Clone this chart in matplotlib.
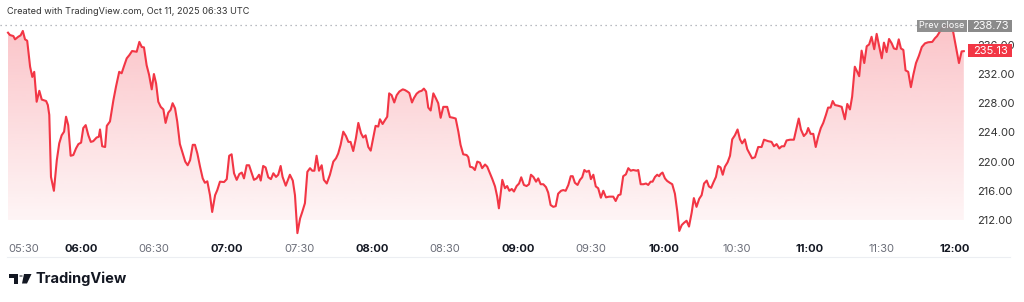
import matplotlib
matplotlib.use("Agg")
import matplotlib.pyplot as plt
import numpy as np
from matplotlib.patches import Polygon, Rectangle, Circle
from matplotlib.lines import Line2D

plt.rcParams['font.family'] = ['Inter', 'DejaVu Sans']

# minutes after 05:30, and price
minutes = [0, 0.8, 2.2, 2.9, 4.2, 5.2, 6.1, 7.0, 7.9, 9.1,
           10.0, 10.8, 11.8, 12.9, 13.9, 15.7, 16.4, 17.0, 17.7, 18.9,
           20.1, 21.1, 22.1, 23.1, 23.9, 24.8, 25.8, 26.9, 28.0, 29.0,
           30.1, 31.0, 32.0, 33.1, 34.1, 35.1, 36.5, 37.4, 37.9, 38.8,
           40.0, 40.7, 42.0, 43.4, 44.5, 45.8, 46.8, 47.8, 48.9, 50.0,
           51.1, 53.0, 54.1, 55.1, 56.0, 57.1, 58.1, 59.2, 60.1, 61.0,
           61.9, 62.9, 64.0, 64.9, 66.0, 67.0, 67.8, 68.8, 69.7, 70.8,
           72.0, 73.0, 74.0, 75.0, 76.1, 77.0, 78.0, 79.1, 80.2, 81.1,
           82.1, 83.2, 84.1, 85.3, 86.2, 87.3, 89.0, 90.1, 91.1, 92.1,
           93.1, 94.2, 95.3, 96.3, 97.2, 98.3, 99.3, 100.4, 101.3, 102.4,
           103.4,
           104.1, 105.1, 106.1, 107.2, 108.3, 109.3, 110.4, 111.3, 112.3, 113.1,
           114.4, 116.1, 117.3, 118.2, 119.2, 120.3, 121.2, 122.3, 123.3, 124.4,
           125.3, 126.2, 127.1, 128.1, 129.2, 130.1, 131.3, 132.6, 134.0, 135.1,
           136.0, 137.0, 138.1, 139.2, 140.2, 141.1, 142.2, 143.3, 144.3, 145.4,
           146.3, 147.3, 148.4, 149.4, 150.5, 151.4, 152.5, 153.2, 154.3, 155.3,
           156.2, 157.0, 158.0, 159.1, 160.1, 161.2, 162.6, 163.5, 164.5, 165.3,
           166.4, 167.2, 168.3, 169.4, 170.4, 171.3, 172.2, 173.1, 174.1, 175.2,
           176.2, 177.2, 178.2, 179.3, 180.9, 182.0, 183.4, 184.4, 185.5, 186.4,
           187.5, 188.9, 189.6, 190.3, 191.4, 192.3, 193.3, 194.4, 195.3, 196.5,
           197.4, 198.5, 199.5, 200.6, 201.5, 202.2,
           203.6, 204.7, 205.6, 206.5, 207.5, 208.4, 209.5, 210.5, 211.4, 212.5,
           213.6, 214.6, 215.4, 216.4, 217.5, 218.4, 219.4, 220.5, 221.6, 222.5,
           223.5, 224.6, 225.6, 226.6, 227.8, 228.7, 229.7, 230.8, 231.8, 232.6,
           233.5, 234.6, 235.6, 236.5, 237.4, 238.3, 239.3, 240.1, 241.1, 242.1,
           243.1, 244.2, 245.2, 246.3, 247.6, 249.3, 250.3, 251.4, 252.3, 253.4,
           254.5, 255.5, 256.5, 257.5, 258.9, 259.6, 260.6, 261.7, 262.8, 263.7,
           264.7, 265.5, 266.5, 267.4, 268.2, 268.8, 269.6, 270.6, 271.5, 272.6,
           273.6, 274.7, 275.7, 276.5, 277.5, 278.4, 279.5, 280.5, 281.6, 282.5,
           283.6, 284.7, 285.7, 286.7, 287.8, 288.7, 289.6, 290.5, 291.6, 292.5,
           293.5, 294.4, 295.3, 296.4, 297.4, 298.3, 299.4, 300.5, 301.5, 302.4,
           303.5, 304.5, 305.6, 306.5, 307.7,
           309.0, 310.4, 311.4, 313.1, 314.5, 315.5, 316.6, 317.7, 318.7, 319.7,
           320.7, 322.1, 323.7, 324.6, 325.7, 326.6, 327.8, 328.9, 329.6, 330.6,
           331.7, 332.7, 333.7, 334.8, 335.8, 336.9, 337.8, 338.8, 339.7, 340.6,
           342.0, 343.4, 344.7, 345.7, 346.8, 347.7, 348.8, 349.8, 350.6, 351.6,
           352.7, 353.7, 354.7, 355.7, 356.8, 357.8, 358.9, 359.9, 360.8, 361.9,
           362.9, 364.0, 364.9, 366.0, 366.9, 367.8, 368.8, 369.7, 370.8, 371.9,
           372.9, 374.0, 375.2, 376.4, 377.7, 379.0, 380.7, 381.8, 382.7, 383.8,
           385.1, 386.3, 387.6, 389.3, 391.7, 392.8, 393.7]

prices = [237.66, 237.34, 237.2, 236.75, 237.1, 237.3, 237.9, 236.75, 236.56, 233.0,
          231.6, 232.3, 228.2, 229.7, 228.5, 228.3, 227.75, 226.4, 217.9, 216.0,
          220.2, 222.5, 223.6, 224.1, 226.15, 225.0, 220.8, 220.9, 221.8, 222.4,
          222.6, 224.6, 225.0, 223.6, 222.7, 222.8, 223.3, 223.4, 224.4, 222.1,
          222.0, 224.9, 225.5, 228.4, 230.3, 232.3, 232.1, 233.1, 234.15, 234.6,
          235.15, 235.05, 236.4, 235.7, 235.65, 233.2, 231.9, 229.9, 232.0, 230.7,
          228.2, 227.5, 227.15, 225.3, 226.7, 227.1, 228.0, 227.3, 225.5, 222.4,
          221.1, 220.0, 219.5, 220.2, 222.3, 222.3, 221.1, 219.3, 217.7, 217.1,
          217.3, 215.4, 213.1, 215.4, 216.1, 217.25, 217.2, 217.6, 220.8, 221.0,
          218.4, 217.5, 218.3, 218.5, 217.7, 219.5, 219.5, 218.4, 217.5, 217.7,
          218.2,
          217.4, 219.4, 219.2, 217.85, 217.6, 218.4, 217.9, 218.2, 219.4, 217.9,
          216.7, 218.2, 217.4, 215.4, 210.2, 212.2, 213.1, 214.3, 218.6, 219.1,
          218.75, 218.75, 220.8, 218.75, 219.5, 217.5, 217.0, 218.2, 220.0, 220.45,
          221.1, 222.3, 224.1, 223.5, 222.7, 222.7, 221.45, 223.2, 225.3, 223.9,
          223.3, 223.6, 222.0, 221.5, 223.4, 224.9, 224.8, 225.8, 225.15, 225.7,
          226.15, 229.35, 229.1, 228.1, 229.1, 229.6, 229.9, 229.8, 229.6, 229.4,
          228.1, 228.7, 229.3, 229.6, 229.7, 230.0, 229.6, 227.4, 227.0, 229.35,
          228.7, 228.0, 226.0, 227.5, 227.5, 226.1, 226.0, 225.9, 224.1, 222.3,
          221.0, 220.9, 220.6, 219.3, 219.2, 218.85, 220.0, 219.85, 219.1, 219.6,
          219.3, 218.4, 217.6, 216.6, 215.2, 213.6,
          217.5, 216.35, 216.65, 216.0, 216.25, 215.9, 216.65, 217.0, 217.85, 216.8,
          216.65, 216.9, 218.2, 217.9, 217.25, 217.7, 216.9, 216.9, 216.5, 215.75,
          214.05, 213.8, 213.9, 215.6, 216.0, 216.1, 216.0, 216.8, 218.0, 218.0,
          217.1, 216.8, 217.5, 217.85, 218.85, 218.6, 218.75, 217.6, 218.2, 216.6,
          216.35, 215.05, 216.0, 215.1, 215.2, 215.2, 214.6, 215.4, 215.5, 218.0,
          218.25, 219.1, 218.75, 218.85, 218.75, 218.85, 216.9, 216.9, 217.0, 216.8,
          217.25, 217.25, 217.9, 218.2, 218.0, 218.3, 218.5, 217.7, 217.35, 217.1,
          216.9, 215.6, 213.1, 210.5, 211.3, 211.6, 211.9, 211.1, 213.0, 215.0,
          213.8, 214.9, 215.4, 217.0, 217.4, 216.6, 216.4, 217.1, 217.9, 219.4,
          219.2, 218.2, 219.3, 219.9, 220.8, 223.05, 223.6, 224.4, 223.05, 222.5,
          223.05, 221.7, 221.0, 220.45, 220.6,
          222.0, 222.0, 223.0, 222.8, 222.7, 222.1, 222.4, 221.8, 222.1, 222.1,
          222.9, 223.0, 223.0, 224.3, 225.9, 224.4, 223.5, 223.9, 224.6, 223.8,
          223.8, 222.0, 223.4, 224.6, 225.3, 226.4, 227.4, 227.4, 228.3, 227.75,
          227.65, 227.5, 225.8, 227.9, 227.15, 228.9, 233.0, 232.3, 231.7, 235.2,
          233.5, 235.8, 236.05, 237.1, 235.4, 237.5, 235.7, 234.15, 236.3, 235.0,
          236.8, 236.2, 235.5, 235.4, 236.75, 235.5, 235.3, 232.5, 232.3, 230.2,
          231.9, 233.5, 234.5, 235.7, 236.2, 236.35, 236.4, 236.9, 237.2, 237.8,
          238.4, 238.6, 238.5, 237.8, 233.5, 235.1, 235.13]

prev_close = 238.73
last_price = 235.13
price_ticks = [212, 216, 220, 224, 228, 232, 236]
time_ticks = ['05:30', '06:00', '06:30', '07:00', '07:30', '08:00', '08:30', '09:00',
              '09:30', '10:00', '10:30', '11:00', '11:30', '12:00']

red = '#f23645'
t = 330 + np.array(minutes)
p = np.array(prices)

fig = plt.figure(figsize=(10.24, 3.02), dpi=100)
W, H = 1024, 302
ax = fig.add_axes([0, (H - 237) / H, 966 / W, 217 / H])
ymin, ymax = 209.67, 239.4
ax.set_ylim(ymin, ymax)
ax.set_xlim(326.7, 724.6)

# gradient area fill
grad = np.linspace(0.05, 0.3, 256)
rgba = np.zeros((256, 1, 4))
rgba[..., 0] = 242 / 255
rgba[..., 1] = 54 / 255
rgba[..., 2] = 69 / 255
rgba[:, 0, 3] = grad
im = ax.imshow(rgba, aspect='auto', origin='lower',
               extent=[t[0], t[-1], 212.0, ymax], zorder=1, interpolation='bilinear')
poly = Polygon(np.vstack([np.column_stack([t, p]), [[t[-1], ymin], [t[0], ymin]]]),
               closed=True, transform=ax.transData, facecolor='none', edgecolor='none')
ax.add_patch(poly)
im.set_clip_path(poly)

ax.plot(t, p, color=red, lw=1.5, zorder=3, solid_joinstyle='round')
ax.axhline(prev_close, color='#a3a6af', lw=0.9, ls=(0, (1, 3)), zorder=2)

for s in ax.spines.values():
    s.set_visible(False)
ax.yaxis.tick_right()
ax.set_yticks(price_ticks)
ax.set_yticklabels(['%.2f' % v for v in price_ticks], fontsize=8, color='#333333')
ax.tick_params(axis='y', length=0, pad=8)
xt = [330 + 30 * i for i in range(len(time_ticks))]
ax.set_xticks(xt)
ax.set_xticklabels(time_ticks, fontsize=8)
ax.tick_params(axis='x', length=0, pad=5)
for lab, txt in zip(ax.get_xticklabels(), time_ticks):
    if txt.endswith(':00'):
        lab.set_fontweight('bold')
        lab.set_color('#131722')
    else:
        lab.set_color('#6a6d78')
ax.get_xticklabels()[0].set_horizontalalignment('left')

def px(x, y):
    return x / W, 1 - y / H

# header
fig.text(*px(7, 11), 'Created with TradingView.com, Oct 11, 2025 06:33 UTC',
         fontsize=6.6, color='#333333', va='center', ha='left')

# price labels on scale
fig.patches.append(Rectangle(px(917, 31.7), 50 / W, 11.7 / H, transform=fig.transFigure,
                             facecolor='#8a8a8a', edgecolor='none', alpha=0.95))
fig.text(*px(942, 26), 'Prev close', fontsize=6.5, color='white', ha='center', va='center')
fig.patches.append(Rectangle(px(968, 31.7), 44 / W, 11.7 / H, transform=fig.transFigure,
                             facecolor='#8a8a8a', edgecolor='none'))
fig.text(*px(990, 26), '%.2f' % prev_close, fontsize=8, color='white', ha='center', va='center')
fig.patches.append(Rectangle(px(968, 56.5), 44 / W, 12.5 / H, transform=fig.transFigure,
                             facecolor=red, edgecolor='none', zorder=5))
fig.text(*px(990, 50.5), '%.2f' % last_price, fontsize=8, color='white', ha='center',
         va='center', zorder=6)

# bottom separator
fig.add_artist(Line2D([7 / W, 1010 / W], [1 - 257 / H, 1 - 257 / H], color='#eceef2', lw=0.8))

# logo
fig.patches.append(Rectangle(px(9, 277.5), 9 / W, 3.5 / H, transform=fig.transFigure,
                             facecolor='#131722', edgecolor='none'))
fig.patches.append(Rectangle(px(14, 283.5), 4 / W, 9.5 / H, transform=fig.transFigure,
                             facecolor='#131722', edgecolor='none'))
fig.patches.append(Circle(px(21, 276), 1.8 / W, transform=fig.transFigure,
                          facecolor='#131722', edgecolor='none'))
fig.patches.append(Polygon([px(24, 274), px(31.5, 274), px(27, 283.5), px(22, 283.5)],
                           closed=True, transform=fig.transFigure,
                           facecolor='#131722', edgecolor='none'))
fig.text(*px(35, 279), 'TradingView', fontsize=10.5, fontweight='bold', color='#131722',
         ha='left', va='center')

fig.savefig('out.png', dpi=100, facecolor='white')
